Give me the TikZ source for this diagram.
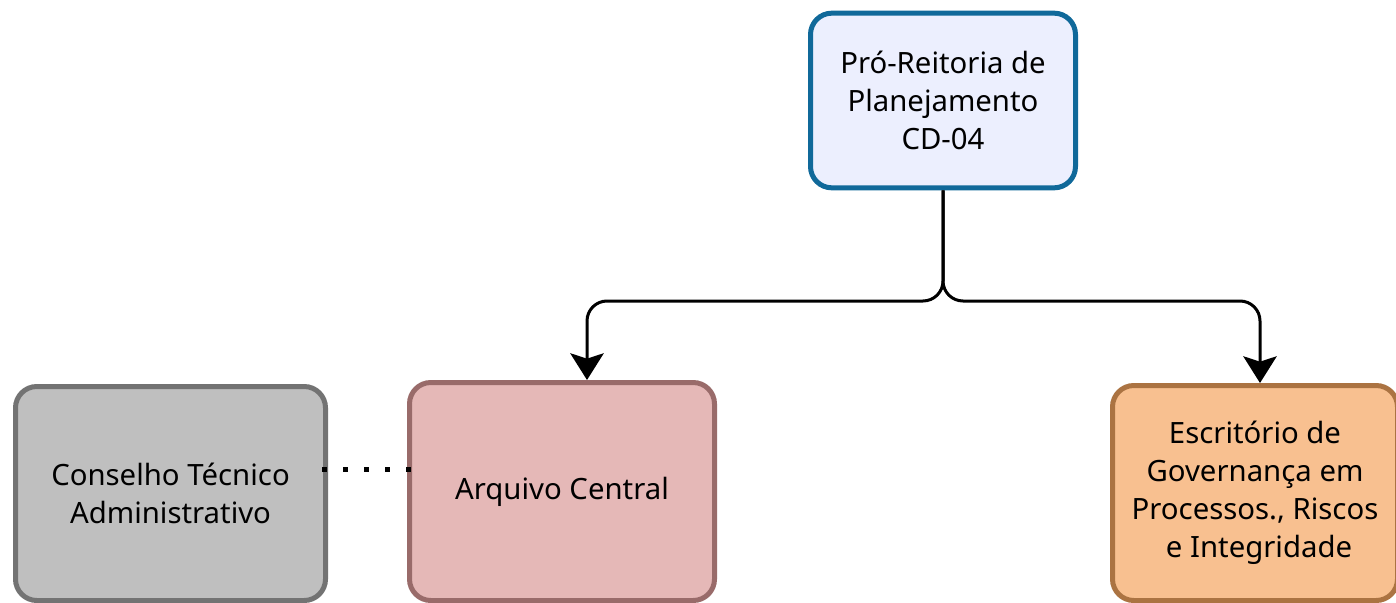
\documentclass[tikz,border=0pt]{standalone}
\usepackage{fontspec}
\setmainfont{Noto Sans}
\usetikzlibrary{arrows.meta}
\definecolor{prpfill}{HTML}{ECEFFE}
\definecolor{prpline}{HTML}{10699A}
\definecolor{cafill}{HTML}{BFBFBF}
\definecolor{caline}{HTML}{737373}
\definecolor{acfill}{HTML}{E5B8B7}
\definecolor{acline}{HTML}{996B6A}
\definecolor{egfill}{HTML}{F8C090}
\definecolor{egline}{HTML}{AB7342}
\begin{document}
\begin{tikzpicture}[x=0.75pt, y=-0.75pt,
		box/.style={draw, line width=3.75pt, rounded corners=16pt, align=center,
			font=\fontsize{22}{28.5}\selectfont, inner sep=0pt},
		link/.style={line width=2.25pt, rounded corners=15pt,
			-{Stealth[length=20pt, width=25pt, inset=4pt]}},
		dotlink/.style={line width=3.75pt, dash pattern=on 3.75pt off 12pt}]
		\useasboundingbox (0,0) rectangle (1396,603);
		\clip (0,0) rectangle (1396,603);
		\node [box, fill=prpfill, draw=prpline, minimum width=198.75pt, minimum height=131pt]
			(prp) at (943,100.5) {Pró-Reitoria de\\Planejamento\hspace{6pt}\\CD-04};
		\node [box, fill=cafill, draw=caline, minimum width=232.5pt, minimum height=160.5pt]
			(ca) at (170.5,493.5) {Conselho Técnico\\Administrativo};
		\node [box, fill=acfill, draw=acline, minimum width=228.75pt, minimum height=163.5pt]
			(ac) at (562,491.5) {Arquivo Central};
		\node [box, fill=egfill, draw=egline, minimum width=213.75pt, minimum height=161.25pt]
			(eg) at (1255,493) {Escritório de\\Governança em\\Processos., Riscos\\\hspace{6pt}e Integridade};
		\coordinate (jn) at (943,301);
		\draw [link] (prp.south) -- (jn) -| ([xshift=18.75pt]ac.north);
		\draw [link] (prp.south) -- (jn) -| ([xshift=3.75pt]eg.north);
		\draw [dotlink] ([xshift=-4.5pt, yshift=18pt]ca.east) -- ([xshift=3pt, yshift=18pt]ca.east -| ac.west);
	\end{tikzpicture}
\end{document}
